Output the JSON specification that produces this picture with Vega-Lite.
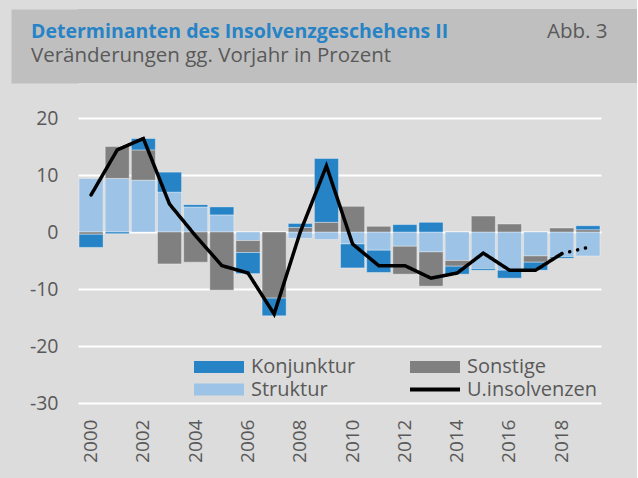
{
  "$schema": "https://vega.github.io/schema/vega-lite/v6.json",
  "background": "#dcdcdc",
  "padding": {"left": 29, "top": 3, "right": 0, "bottom": 16},
  "title": {"text": "Abb. 3", "anchor": "start", "frame": "group", "offset": -39, "dx": 469, "font": "Open Sans", "fontSize": 20.5, "fontWeight": "normal", "color": "#595959"},
  "datasets": {
    "komponenten": [
      {"Jahr": 2000, "Komponente": "Struktur", "Wert": 9.4}, {"Jahr": 2000, "Komponente": "Sonstige", "Wert": -0.4}, {"Jahr": 2000, "Komponente": "Konjunktur", "Wert": -2.3},
      {"Jahr": 2001, "Komponente": "Struktur", "Wert": 9.4}, {"Jahr": 2001, "Komponente": "Sonstige", "Wert": 5.6}, {"Jahr": 2001, "Komponente": "Konjunktur", "Wert": -0.3},
      {"Jahr": 2002, "Komponente": "Struktur", "Wert": 9.1}, {"Jahr": 2002, "Komponente": "Sonstige", "Wert": 5.3}, {"Jahr": 2002, "Komponente": "Konjunktur", "Wert": 2.0},
      {"Jahr": 2003, "Komponente": "Struktur", "Wert": 7.0}, {"Jahr": 2003, "Komponente": "Sonstige", "Wert": -5.6}, {"Jahr": 2003, "Komponente": "Konjunktur", "Wert": 3.5},
      {"Jahr": 2004, "Komponente": "Struktur", "Wert": 4.4}, {"Jahr": 2004, "Komponente": "Sonstige", "Wert": -5.3}, {"Jahr": 2004, "Komponente": "Konjunktur", "Wert": 0.4},
      {"Jahr": 2005, "Komponente": "Struktur", "Wert": 3.0}, {"Jahr": 2005, "Komponente": "Sonstige", "Wert": -10.2}, {"Jahr": 2005, "Komponente": "Konjunktur", "Wert": 1.4},
      {"Jahr": 2006, "Komponente": "Struktur", "Wert": -1.5}, {"Jahr": 2006, "Komponente": "Sonstige", "Wert": -2.1}, {"Jahr": 2006, "Komponente": "Konjunktur", "Wert": -3.7},
      {"Jahr": 2007, "Komponente": "Struktur", "Wert": 0.0}, {"Jahr": 2007, "Komponente": "Sonstige", "Wert": -11.6}, {"Jahr": 2007, "Komponente": "Konjunktur", "Wert": -3.1},
      {"Jahr": 2008, "Komponente": "Struktur", "Wert": -1.1}, {"Jahr": 2008, "Komponente": "Sonstige", "Wert": 0.8}, {"Jahr": 2008, "Komponente": "Konjunktur", "Wert": 0.7},
      {"Jahr": 2009, "Komponente": "Struktur", "Wert": -1.3}, {"Jahr": 2009, "Komponente": "Sonstige", "Wert": 1.7}, {"Jahr": 2009, "Komponente": "Konjunktur", "Wert": 11.2},
      {"Jahr": 2010, "Komponente": "Struktur", "Wert": -2.1}, {"Jahr": 2010, "Komponente": "Sonstige", "Wert": 4.5}, {"Jahr": 2010, "Komponente": "Konjunktur", "Wert": -4.2},
      {"Jahr": 2011, "Komponente": "Struktur", "Wert": -3.2}, {"Jahr": 2011, "Komponente": "Sonstige", "Wert": 1.0}, {"Jahr": 2011, "Komponente": "Konjunktur", "Wert": -3.9},
      {"Jahr": 2012, "Komponente": "Struktur", "Wert": -2.5}, {"Jahr": 2012, "Komponente": "Sonstige", "Wert": -4.9}, {"Jahr": 2012, "Komponente": "Konjunktur", "Wert": 1.3},
      {"Jahr": 2013, "Komponente": "Struktur", "Wert": -3.5}, {"Jahr": 2013, "Komponente": "Sonstige", "Wert": -6.0}, {"Jahr": 2013, "Komponente": "Konjunktur", "Wert": 1.7},
      {"Jahr": 2014, "Komponente": "Struktur", "Wert": -5.0}, {"Jahr": 2014, "Komponente": "Sonstige", "Wert": -1.0}, {"Jahr": 2014, "Komponente": "Konjunktur", "Wert": -1.4},
      {"Jahr": 2015, "Komponente": "Struktur", "Wert": -6.4}, {"Jahr": 2015, "Komponente": "Sonstige", "Wert": 2.8}, {"Jahr": 2015, "Komponente": "Konjunktur", "Wert": -0.3},
      {"Jahr": 2016, "Komponente": "Struktur", "Wert": -6.7}, {"Jahr": 2016, "Komponente": "Sonstige", "Wert": 1.4}, {"Jahr": 2016, "Komponente": "Konjunktur", "Wert": -1.4},
      {"Jahr": 2017, "Komponente": "Struktur", "Wert": -4.2}, {"Jahr": 2017, "Komponente": "Sonstige", "Wert": -1.1}, {"Jahr": 2017, "Komponente": "Konjunktur", "Wert": -1.4},
      {"Jahr": 2018, "Komponente": "Struktur", "Wert": -4.3}, {"Jahr": 2018, "Komponente": "Sonstige", "Wert": 0.7}, {"Jahr": 2018, "Komponente": "Konjunktur", "Wert": -0.3},
      {"Jahr": 2019, "Komponente": "Struktur", "Wert": -4.2}, {"Jahr": 2019, "Komponente": "Sonstige", "Wert": 0.4}, {"Jahr": 2019, "Komponente": "Konjunktur", "Wert": 0.7}
    ],
    "linie": [
      {"Jahr": 2000, "Wert": 6.5, "Abschnitt": "Ist"},
      {"Jahr": 2001, "Wert": 14.4, "Abschnitt": "Ist"},
      {"Jahr": 2002, "Wert": 16.4, "Abschnitt": "Ist"},
      {"Jahr": 2003, "Wert": 4.9, "Abschnitt": "Ist"},
      {"Jahr": 2004, "Wert": -0.7, "Abschnitt": "Ist"},
      {"Jahr": 2005, "Wert": -5.9, "Abschnitt": "Ist"},
      {"Jahr": 2006, "Wert": -7.2, "Abschnitt": "Ist"},
      {"Jahr": 2007, "Wert": -14.4, "Abschnitt": "Ist"},
      {"Jahr": 2008, "Wert": 0.0, "Abschnitt": "Ist"},
      {"Jahr": 2009, "Wert": 11.6, "Abschnitt": "Ist"},
      {"Jahr": 2010, "Wert": -2.1, "Abschnitt": "Ist"},
      {"Jahr": 2011, "Wert": -5.9, "Abschnitt": "Ist"},
      {"Jahr": 2012, "Wert": -5.9, "Abschnitt": "Ist"},
      {"Jahr": 2013, "Wert": -8.1, "Abschnitt": "Ist"},
      {"Jahr": 2014, "Wert": -7.2, "Abschnitt": "Ist"},
      {"Jahr": 2015, "Wert": -3.7, "Abschnitt": "Ist"},
      {"Jahr": 2016, "Wert": -6.7, "Abschnitt": "Ist"},
      {"Jahr": 2017, "Wert": -6.7, "Abschnitt": "Ist"},
      {"Jahr": 2018, "Wert": -3.8, "Abschnitt": "Ist"},
      {"Jahr": 2018, "Wert": -3.8, "Abschnitt": "Prognose"},
      {"Jahr": 2019, "Wert": -2.7, "Abschnitt": "Prognose"}
    ]
  },
  "vconcat": [
    {
      "width": 559,
      "height": 74,
      "view": {"fill": "#bfbfbf", "stroke": null},
      "title": {"text": "Determinanten des Insolvenzgeschehens II", "subtitle": "Veränderungen gg. Vorjahr in Prozent", "anchor": "start", "frame": "group", "offset": -64, "dx": -47, "font": "Open Sans", "fontSize": 19.5, "fontWeight": "bold", "color": "#2683c6", "subtitleFont": "Open Sans", "subtitleFontSize": 20.5, "subtitleColor": "#595959", "subtitlePadding": 3},
      "data": {"values": [{}]},
      "mark": {"type": "text", "text": ""},
      "encoding": {
        "y": {"datum": 0, "type": "quantitative",
          "axis": {"labels": false, "ticks": false, "grid": false, "title": null, "domain": true, "domainColor": "#bfbfbf", "domainWidth": 67, "offset": 33.5}}
      }
    },
    {
      "width": 523,
      "height": 285,
      "encoding": {
        "x": {"field": "Jahr", "type": "ordinal", "scale": {"paddingInner": 0.08, "paddingOuter": 0.04},
          "axis": {"values": [2000, 2002, 2004, 2006, 2008, 2010, 2012, 2014, 2016, 2018], "labelAngle": 270, "labelFont": "Open Sans", "labelFontSize": 19, "labelColor": "#595959", "labelPadding": 16, "ticks": false, "domain": false, "grid": false, "title": null}},
        "y": {"type": "quantitative", "scale": {"domain": [-30, 20], "nice": false},
          "axis": {"values": [-30, -20, -10, 0, 10, 20], "labelExpr": "'' + datum.value", "labelFont": "Open Sans", "labelFontSize": 19.5, "labelColor": "#595959", "labelPadding": 20, "ticks": false, "domain": false, "grid": true, "gridColor": "#ffffff", "gridWidth": 2, "title": null}}
      },
      "layer": [
        {
          "data": {"name": "komponenten"},
          "mark": {"type": "bar", "stroke": "#ffffff", "strokeOpacity": 0.35, "strokeWidth": 1},
          "encoding": {
            "y": {"field": "Wert", "type": "quantitative", "stack": "zero"},
            "color": {"field": "Komponente", "type": "nominal",
              "scale": {"domain": ["Konjunktur", "Sonstige", "Struktur", "U.insolvenzen"], "range": ["#2683c6", "#808080", "#9dc3e6", "#000000"]},
              "legend": {"title": null, "orient": "none", "legendX": 116, "legendY": 348, "direction": "horizontal", "columns": 2, "symbolSize": 400, "labelFont": "Open Sans", "labelFontSize": 20, "labelColor": "#595959", "labelOffset": 37, "columnPadding": 54, "rowPadding": 2.5,
                "encode": {"symbols": {"update": {
                  "shape": {"signal": "datum.value === 'U.insolvenzen' ? 'M-1,-0.2H4V0.2H-1Z' : 'M-1,-0.6H4V0.6H-1Z'"},
                  "fill": {"scale": "color", "field": "value"},
                  "strokeWidth": {"value": 0},
                  "opacity": {"value": 1}}}}}},
            "order": {"field": "Komponente", "sort": "descending"}
          }
        },
        {
          "data": {"name": "linie"},
          "mark": {"type": "line", "strokeWidth": 3.5, "strokeCap": "round", "strokeJoin": "miter"},
          "encoding": {
            "y": {"field": "Wert", "type": "quantitative"},
            "color": {"datum": "U.insolvenzen",
              "legend": {"title": null, "orient": "none", "legendX": 116, "legendY": 348, "direction": "horizontal", "columns": 2, "symbolSize": 400, "labelFont": "Open Sans", "labelFontSize": 20, "labelColor": "#595959", "labelOffset": 37, "columnPadding": 54, "rowPadding": 2.5,
                "encode": {"symbols": {"update": {
                  "shape": {"signal": "datum.value === 'U.insolvenzen' ? 'M-1,-0.2H4V0.2H-1Z' : 'M-1,-0.6H4V0.6H-1Z'"},
                  "fill": {"scale": "color", "field": "value"},
                  "strokeWidth": {"value": 0},
                  "opacity": {"value": 1}}}}}},
            "strokeDash": {"field": "Abschnitt", "type": "nominal", "scale": {"domain": ["Ist", "Prognose"], "range": [[1, 0], [0.1, 8]]}, "legend": null}
          }
        }
      ]
    }
  ],
  "spacing": 25,
  "config": {"view": {"stroke": null}, "font": "Open Sans"}
}
